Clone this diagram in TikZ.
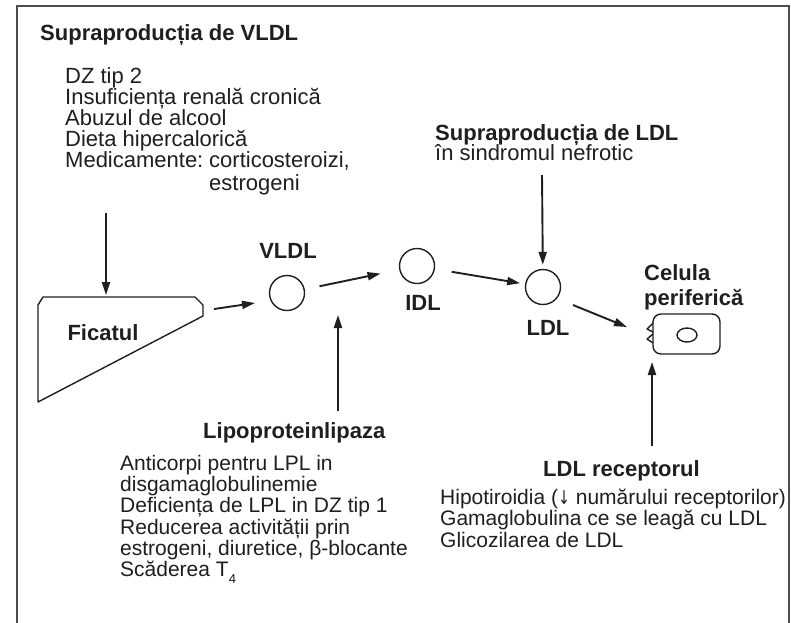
\documentclass[tikz,border=0pt]{standalone}
\usepackage{fontspec}
\setmainfont{Liberation Sans}
\newfontfamily\dejavu{DejaVu Sans}
\usetikzlibrary{arrows.meta}
\definecolor{ink}{gray}{0.12}
\begin{document}
\begin{tikzpicture}[x=1pt,y=-1pt,
  txt/.style={anchor=base west, inner sep=0pt, font=\fontsize{22}{22}\selectfont, text=ink},
  sml/.style={anchor=base west, inner sep=0pt, font=\fontsize{21}{21}\selectfont, text=ink},
  ttl/.style={anchor=base west, inner sep=0pt, font=\fontsize{22}{22}\selectfont\bfseries, text=ink},
  lbl/.style={anchor=base, inner sep=0pt, font=\fontsize{22}{22}\selectfont\bfseries, text=ink},
  arr/.style={draw=ink, line width=1.9pt, -{Triangle[length=13pt,width=8pt]}},
  ball/.style={circle, draw=ink, line width=1.4pt, minimum size=35pt, inner sep=0pt},
  shp/.style={draw=ink, line width=1.4pt, line join=round},
  frame/.style={draw=black!70, line width=1.8pt}]
\useasboundingbox (0,0) rectangle (791,622);
\fill[white] (0,0) rectangle (791,622);
% frame
\draw[frame] (17,624) -- (17,6) -- (789,6) -- (789,624);

% VLDL overproduction block
\node[ttl] (t1) at (40,40) {Supraproducția de VLDL};
\node[txt] (v1) at (65,83) {DZ tip 2};
\node[txt] (v2) at (65,104) {Insuficiența renală cronică};
\node[txt] (v3) at (65,125) {Abuzul de alcool};
\node[txt] (v4) at (65,146) {Dieta hipercalorică};
\node[txt] (v5) at (65,167) {Medicamente:};
\node[txt] (v6) at (209,167) {corticosteroizi,};
\node[txt] (v7) at (209,190) {estrogeni};

% LDL overproduction
\node[ttl] (t2) at (435,140) {Supraproducția de LDL};
\node[txt] (l1) at (435,160) {în sindromul nefrotic};

% liver
\draw[shp] (43,297) -- (195,297) -- (203,305) -- (203,316) -- (38,402) -- (38,305) -- cycle;
\node[lbl] (fl) at (103,340) {Ficatul};
\coordinate (fictop) at (106,295);
\coordinate (ficout) at (214,309);

% particles
\node[ball] (vldl) at (287,293) {};
\node[ball] (idl) at (417,266) {};
\node[ball] (ldl) at (543,287) {};
\node[lbl] (vl) at (288,258) {VLDL};
\node[lbl] (il) at (423,310) {IDL};
\node[lbl] (ll) at (548,335) {LDL};

% cell
\node[ttl] (c1) at (644,280) {Celula};
\node[ttl] (c2) at (644,305) {periferică};
\node[draw=ink, line width=1.4pt, rounded corners=8pt, minimum width=67pt, minimum height=40pt, inner sep=0pt] (cell) at (686.5,334) {};
\draw[shp] (653,323) -- (647,329) -- (653,332);
\draw[shp] (653,334) -- (647,339) -- (653,343);
\draw[shp] (687,335) ellipse [x radius=10, y radius=7];

% lipoprotein lipase block
\node[ttl] (t3) at (203,438) {Lipoproteinlipaza};
\node[sml] (p1) at (120,470) {Anticorpi pentru LPL in};
\node[sml] (p2) at (120,491) {disgamaglobulinemie};
\node[sml] (p3) at (120,512) {Deficiența de LPL in DZ tip 1};
\node[sml] (p4) at (120,534) {Reducerea activității prin};
\node[sml] (p5) at (120,555) {estrogeni, diuretice, β-blocante};
\node[sml] (p6) at (120,576) {Scăderea T\raisebox{-0.35em}{\fontsize{13}{13}\selectfont 4}};

% LDL receptor block
\node[ttl] (t4) at (543,476) {LDL receptorul};
\node[sml] (r1) at (440,504) {Hipotiroidia ({\dejavu\fontsize{19}{19}\selectfont\scalebox{0.75}[1]{↓}} numărului receptorilor)};
\node[sml] (r2) at (440,525) {Gamaglobulina ce se leagă cu LDL};
\node[sml] (r3) at (440,547) {Glicozilarea de LDL};

% arrow end coordinates
\coordinate (a1s) at (106,213);
\coordinate (vin) at (255,303);
\coordinate (ldltop) at (542,175);
\coordinate (ldlout) at (573,305);
\coordinate (cellin) at (627,327);
\coordinate (lplup) at (338,411);
\coordinate (vbot) at (338,315);
\coordinate (recup) at (652,446);
\coordinate (cellbot) at (652,362);

% connectors
\draw[arr] (a1s) -- (fictop);
\draw[arr] (ficout) -- (vin);
\draw[arr, shorten <=15pt, shorten >=19pt] (vldl) -- (idl);
\draw[arr, shorten <=17pt, shorten >=5pt] (idl) -- (ldl);
\draw[arr, shorten >=4pt] (ldltop) -- (ldl);
\draw[arr] (ldlout) -- (cellin);
\draw[arr] (lplup) -- (vbot);
\draw[arr] (recup) -- (cellbot);
\end{tikzpicture}
\end{document}
